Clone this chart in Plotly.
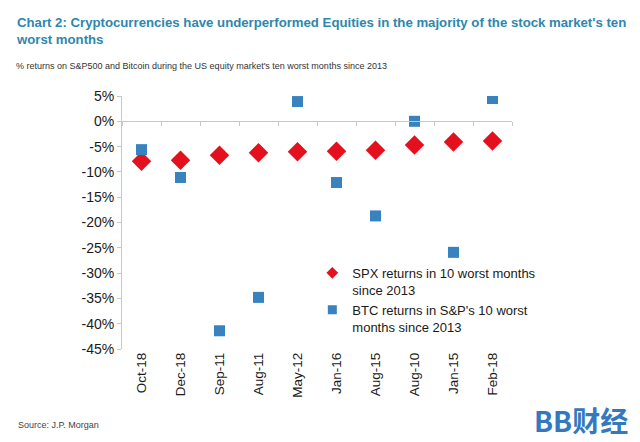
import plotly.graph_objects as go

months = ["Oct-18", "Dec-18", "Sep-11", "Aug-11", "May-12", "Jan-16", "Aug-15", "Aug-10", "Jan-15", "Feb-18"]
spx = [-7.9, -7.7, -6.7, -6.2, -6.0, -5.9, -5.7, -4.7, -4.1, -3.9]
btc = [-5.6, -11.1, -41.4, -34.8, 3.9, -12.1, -18.7, 0.0, -25.9, 4.5]
y_ticks = [5, 0, -5, -10, -15, -20, -25, -30, -35, -40, -45]
y_labels = [f"{v}%" for v in y_ticks]
spx_name = "SPX returns in 10 worst months<br>since 2013"
btc_name = "BTC returns in S&P's 10 worst<br>months since 2013"

y_range = [-45, 5]
zero_pos = (0 - y_range[0]) / (y_range[1] - y_range[0])
RED = "#E5101E"
BLUE = "#3783BF"

fig = go.Figure()
fig.add_trace(go.Scatter(
    x=months, y=spx, mode="markers", name=spx_name, showlegend=False,
    marker=dict(symbol="diamond", size=15, color=RED),
))
fig.add_trace(go.Scatter(
    x=months, y=btc, mode="markers", name=btc_name, showlegend=False,
    marker=dict(symbol="square", size=11, color=BLUE),
))
# legend entries with smaller symbols, as in the reference
fig.add_trace(go.Scatter(
    x=[None], y=[None], mode="markers", name=spx_name,
    marker=dict(symbol="diamond", size=9, color=RED),
))
fig.add_trace(go.Scatter(
    x=[None], y=[None], mode="markers", name=btc_name,
    marker=dict(symbol="square", size=9, color=BLUE),
))
# invisible trace on overlay axis to draw the zero axis line with boundary ticks
fig.add_trace(go.Scatter(
    x=months, y=[0] * len(months), xaxis="x2", mode="markers",
    marker=dict(opacity=0), showlegend=False, hoverinfo="skip",
))

fig.update_layout(
    width=640, height=442,
    margin=dict(l=122, r=128, t=96, b=93),
    paper_bgcolor="white", plot_bgcolor="white",
    font=dict(family="Liberation Sans, Arial, sans-serif", color="#1a1a1a"),
    showlegend=True,
    legend=dict(
        x=0.488, y=0.36, xanchor="left", yanchor="top",
        font=dict(size=13, color="#1a1a1a"),
        bgcolor="rgba(0,0,0,0)", tracegroupgap=6, itemwidth=30,
        valign="top",
    ),
    xaxis=dict(
        type="category", categoryorder="array", categoryarray=months,
        showline=False, showgrid=False, ticks="",
        tickangle=-90, tickfont=dict(size=13.5, color="#1a1a1a"),
        range=[-0.5, 9.5],
    ),
    xaxis2=dict(
        type="category", categoryorder="array", categoryarray=months,
        overlaying="x", anchor="free", position=zero_pos,
        showline=True, linecolor="#C8C8C8", linewidth=1,
        ticks="outside", ticklen=4, tickcolor="#C8C8C8", tickson="boundaries",
        showticklabels=False, showgrid=False, range=[-0.5, 9.5],
    ),
    yaxis=dict(
        range=y_range, tickvals=y_ticks, ticktext=y_labels,
        showline=True, linecolor="#C8C8C8", linewidth=1,
        ticks="outside", ticklen=4, tickcolor="#C8C8C8",
        showgrid=False, zeroline=False,
        tickfont=dict(size=14, color="#1a1a1a"),
    ),
    annotations=[
        dict(text="<b>Chart 2: Cryptocurrencies have underperformed Equities in the majority of the stock market's ten<br>worst months</b>",
             xref="paper", yref="paper", x=(14 - 122) / 390, y=1 + (96 - 13) / 253, xanchor="left", yanchor="top",
             align="left", showarrow=False,
             font=dict(size=13.2, color="#2E87AE", family="Liberation Sans, Arial, sans-serif")),
        dict(text="% returns on S&P500 and Bitcoin during the US equity market's ten worst months since 2013",
             xref="paper", yref="paper", x=(14 - 122) / 390, y=1 + (96 - 59) / 253, xanchor="left", yanchor="top",
             showarrow=False, font=dict(size=9, color="#333333")),
        dict(text="Source: J.P. Morgan",
             xref="paper", yref="paper", x=(16 - 122) / 390, y=-(418 - 349) / 253, xanchor="left", yanchor="top",
             showarrow=False, font=dict(size=9, color="#444444")),
        dict(text="<b>BB财经</b>",
             xref="paper", yref="paper", x=(630 - 122) / 390, y=-(398 - 349) / 253, xanchor="right", yanchor="top",
             showarrow=False, font=dict(size=28, color="#3478BE", family="Noto Sans CJK SC")),
    ],
)

fig.write_html("out.html", config={"displayModeBar": False},
               post_script="document.body.style.margin='0';")
